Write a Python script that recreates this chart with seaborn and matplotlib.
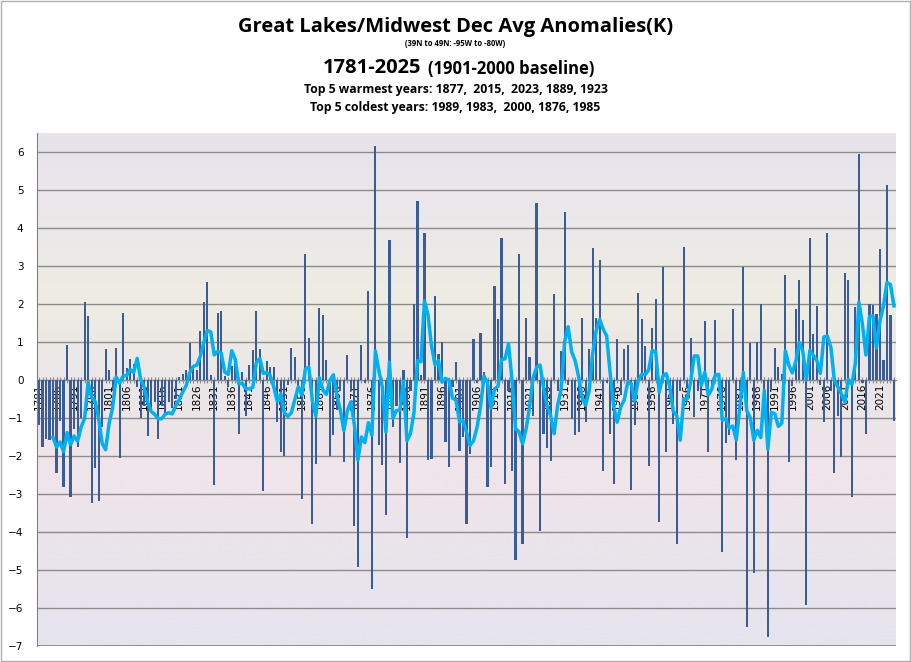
import numpy as np
import pandas as pd
import matplotlib
matplotlib.use("Agg")
import matplotlib.pyplot as plt
from matplotlib.colors import LinearSegmentedColormap
from matplotlib.patches import Rectangle
import seaborn as sns

# December anomalies (K), 1781-2025
years = list(range(1781, 2026))
anom = [
    -1.2, -1.78, -1.57, -1.6, -1.5, -2.45, -1.1, -2.84, 0.9, -3.09,      # 1781-1790
    -1.3, -1.78, -1.0, 2.03, 1.66, -3.24, -2.34, -3.2, -1.25, 0.79,      # 1791-1800
    0.24, -0.3, 0.84, -2.07, 1.75, 0.3, 0.53, 0.4, -0.2, -1.0,           # 1801-1810
    -0.7, -1.49, -0.8, -0.6, -1.57, -0.7, -0.9, -0.6, -0.75, -0.5,       # 1811-1820
    0.07, 0.15, 0.24, 0.95, 0.3, 0.25, 1.28, 2.05, 2.56, 0.13,           # 1821-1830
    -2.78, 1.75, 1.79, 0.1, -0.2, 0.35, 0.6, -1.43, 0.2, -0.96,          # 1831-1840
    0.37, 0.77, 1.8, 0.8, -2.94, 0.5, 0.33, 0.33, -1.12, -1.92,          # 1841-1850
    -2.0, -0.15, 0.82, 0.6, -0.2, -3.15, 3.3, 1.08, -3.81, -2.22,        # 1851-1860
    1.88, 1.69, 0.51, -2.0, -1.46, -0.8, -0.3, -2.17, 0.64, -0.3,        # 1861-1870
    -3.86, -4.94, 0.9, -0.1, 2.32, -5.51, 6.14, -1.72, -2.25, -3.57,     # 1871-1880
    3.67, -1.24, -0.7, -2.19, 0.25, -4.17, -0.3, 2.0, 4.69, 0.11,        # 1881-1890
    3.85, -2.12, -2.08, 2.19, 0.67, 1.0, -1.64, -2.29, -0.2, 0.45,       # 1891-1900
    -1.88, -1.5, -3.8, -1.95, 1.06, -0.1, 1.22, 0.21, -2.83, -2.3,       # 1901-1910
    2.45, 1.59, 3.72, -2.74, -0.3, -2.4, -4.75, 3.3, -4.32, 1.63,        # 1911-1920
    0.58, -0.96, 4.65, -3.99, -1.44, -1.81, -2.14, 2.25, -0.3, 0.74,     # 1921-1930
    4.4, -0.14, -1.05, -1.46, -1.38, 1.63, -1.12, 0.8, 3.46, 1.63,       # 1931-1940
    3.15, -2.4, -0.1, -1.44, -2.74, 1.06, -0.4, 0.8, 0.9, -2.9,          # 1941-1950
    -1.2, 2.28, 1.59, 0.87, -2.28, 1.35, 2.13, -3.75, 2.95, -1.91,       # 1951-1960
    -0.3, -1.16, -4.32, -0.3, 3.48, -0.2, 1.1, -0.98, -0.3, -0.4,        # 1961-1970
    1.53, -1.91, -0.2, 1.56, -0.3, -4.53, -1.68, -1.46, 1.85, -2.12,     # 1971-1980
    -0.3, 2.95, -6.51, 0.96, -5.09, 1.0, 2.0, -0.3, -6.77, -0.27,        # 1981-1990
    0.84, 0.32, 0.14, 2.75, -2.17, -0.17, 1.85, 2.62, 1.56, -5.93,       # 1991-2000
    3.72, 1.2, 1.94, -0.14, -1.12, 3.85, -0.3, -2.45, -0.96, -2.04,      # 2001-2010
    2.8, 2.62, -3.08, 1.9, 5.94, -0.1, -1.44, 2.0, 1.97, 1.72,           # 2011-2020
    3.44, 0.52, 5.12, 1.7, -1.09,                                        # 2021-2025
]

df = pd.DataFrame({"year": years, "anom": anom})
# Excel style 5 period moving average (trailing)
df["ma5"] = df["anom"].rolling(5).mean()

fig = plt.figure(figsize=(9.11, 6.62), dpi=100)
fig.patch.set_facecolor("white")
ax = fig.add_axes([37.3 / 911, 16.5 / 662, 858.4 / 911, 513 / 662])

# pastel background of the plot area
bg = LinearSegmentedColormap.from_list(
    "bg", ["#e8e3ec", "#ebe8ea", "#eeece2", "#eae6e8", "#f0e4ea", "#eae4ec", "#e6e4ef"])
ax.imshow(np.linspace(0, 1, 200).reshape(-1, 1), cmap=bg, aspect="auto",
          extent=(0, 1, 0, 1), transform=ax.transAxes, zorder=0)

sns.barplot(data=df, x="year", y="anom", color="#3a5d9a", saturation=1,
            width=0.62, errorbar=None, linewidth=0, ax=ax, zorder=3)
sns.lineplot(x=np.arange(len(df)), y=df["ma5"], color="#00b0f0", linewidth=2.5,
             ax=ax, zorder=4)

ax.spines["bottom"].set_position(("data", 0))
ax.spines["bottom"].set_color("#8c8c8c")
ax.spines["bottom"].set_zorder(2)
ax.spines["top"].set_visible(False)
ax.spines["right"].set_visible(False)
ax.spines["left"].set_color("#808080")

ax.set_xlim(-0.5, len(df) - 0.5)
ax.set_ylim(-7, 6.5)
ax.set_yticks(range(-7, 7))
ax.yaxis.grid(True, color="#8c8c8c", linewidth=1)
for gl in ax.get_ygridlines():
    gl.set_zorder(1)

ax.set_xticks(range(len(df)))
ax.set_xticklabels([str(y) if (y - 1781) % 5 == 0 else "" for y in years],
                   rotation=90, fontsize=7.5, family="DejaVu Sans")
ax.tick_params(axis="x", direction="inout", length=4, width=0.8, color="#8c8c8c",
               pad=1, labelrotation=90)
ax.tick_params(axis="y", length=0, labelsize=7.5, pad=10)
ax.set_xlabel("")
ax.set_ylabel("")

# bottom border of the plot area
ax.axhline(-7, color="#808080", linewidth=1.2, zorder=2)

font = "Open Sans"
fig.text(0.5, 1 - 27 / 662, "Great Lakes/Midwest Dec Avg Anomalies(K)", ha="center",
         va="center", fontsize=14.5, fontweight="bold", family=font)
fig.text(0.5, 1 - 44 / 662, "(39N to 49N: -95W to -80W)", ha="center", va="center",
         fontsize=5.5, fontweight="bold", family=font)
fig.text(0.462, 1 - 68 / 662, "1781-2025", ha="right", va="center",
         fontsize=14.5, fontweight="bold", family=font)
fig.text(0.47, 1 - 69 / 662, "(1901-2000 baseline)", ha="left", va="center",
         fontsize=12, fontweight="bold", family=font)
fig.text(0.5, 1 - 90 / 662, "Top 5 warmest years: 1877,  2015,  2023, 1889, 1923",
         ha="center", va="center", fontsize=8.8, fontweight="bold", family=font)
fig.text(0.5, 1 - 107 / 662, "Top 5 coldest years: 1989, 1983,  2000, 1876, 1985",
         ha="center", va="center", fontsize=8.8, fontweight="bold", family=font)

fig.add_artist(Rectangle((0.001, 0.001), 0.998, 0.998, transform=fig.transFigure,
                         fill=False, edgecolor="#b0b0b0", linewidth=1))

fig.savefig("out.png", dpi=100)
